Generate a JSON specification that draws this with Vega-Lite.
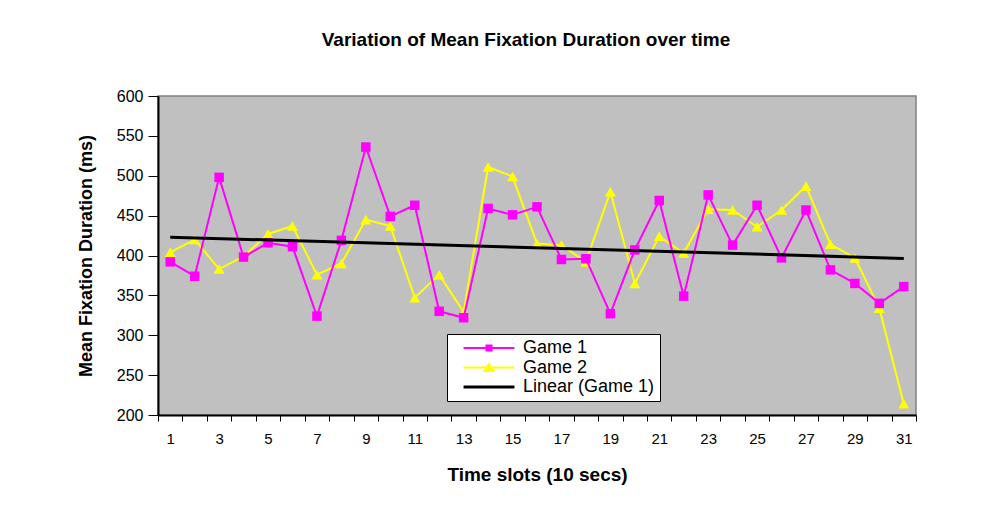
{
  "$schema": "https://vega.github.io/schema/vega-lite/v6.json",
  "width": 758,
  "height": 319,
  "autosize": "none",
  "padding": {"left": 158, "top": 96, "right": 86, "bottom": 98},
  "background": "white",
  "config": {
    "font": "Liberation Sans",
    "view": {"fill": "#C0C0C0", "stroke": "#808080", "strokeWidth": 1.5},
    "axis": {"labelColor": "black", "titleColor": "black", "domainColor": "black", "tickColor": "black", "grid": false, "labelFont": "Liberation Sans", "titleFont": "Liberation Sans"},
    "legend": {"strokeColor": "black", "fillColor": "white"}
  },
  "title": {
    "text": "Variation of Mean Fixation Duration over time",
    "font": "Liberation Sans",
    "fontSize": 19,
    "fontWeight": "bold",
    "color": "black",
    "anchor": "middle",
    "dx": -11,
    "offset": 38
  },
  "data": {
    "values": [
      {"slot": 1, "series": "Game 1", "value": 392},
      {"slot": 2, "series": "Game 1", "value": 374},
      {"slot": 3, "series": "Game 1", "value": 498},
      {"slot": 4, "series": "Game 1", "value": 398},
      {"slot": 5, "series": "Game 1", "value": 416},
      {"slot": 6, "series": "Game 1", "value": 411},
      {"slot": 7, "series": "Game 1", "value": 324},
      {"slot": 8, "series": "Game 1", "value": 419},
      {"slot": 9, "series": "Game 1", "value": 536},
      {"slot": 10, "series": "Game 1", "value": 449},
      {"slot": 11, "series": "Game 1", "value": 463},
      {"slot": 12, "series": "Game 1", "value": 330},
      {"slot": 13, "series": "Game 1", "value": 322},
      {"slot": 14, "series": "Game 1", "value": 459},
      {"slot": 15, "series": "Game 1", "value": 451},
      {"slot": 16, "series": "Game 1", "value": 461},
      {"slot": 17, "series": "Game 1", "value": 395},
      {"slot": 18, "series": "Game 1", "value": 396},
      {"slot": 19, "series": "Game 1", "value": 327},
      {"slot": 20, "series": "Game 1", "value": 407},
      {"slot": 21, "series": "Game 1", "value": 469},
      {"slot": 22, "series": "Game 1", "value": 349},
      {"slot": 23, "series": "Game 1", "value": 476},
      {"slot": 24, "series": "Game 1", "value": 413},
      {"slot": 25, "series": "Game 1", "value": 463},
      {"slot": 26, "series": "Game 1", "value": 397},
      {"slot": 27, "series": "Game 1", "value": 457},
      {"slot": 28, "series": "Game 1", "value": 382},
      {"slot": 29, "series": "Game 1", "value": 365},
      {"slot": 30, "series": "Game 1", "value": 340},
      {"slot": 31, "series": "Game 1", "value": 361},
      {"slot": 1, "series": "Game 2", "value": 404},
      {"slot": 2, "series": "Game 2", "value": 420},
      {"slot": 3, "series": "Game 2", "value": 383},
      {"slot": 4, "series": "Game 2", "value": 399},
      {"slot": 5, "series": "Game 2", "value": 427},
      {"slot": 6, "series": "Game 2", "value": 437},
      {"slot": 7, "series": "Game 2", "value": 376},
      {"slot": 8, "series": "Game 2", "value": 390},
      {"slot": 9, "series": "Game 2", "value": 445},
      {"slot": 10, "series": "Game 2", "value": 437},
      {"slot": 11, "series": "Game 2", "value": 347},
      {"slot": 12, "series": "Game 2", "value": 376},
      {"slot": 13, "series": "Game 2", "value": 329},
      {"slot": 14, "series": "Game 2", "value": 511},
      {"slot": 15, "series": "Game 2", "value": 499},
      {"slot": 16, "series": "Game 2", "value": 415},
      {"slot": 17, "series": "Game 2", "value": 413},
      {"slot": 18, "series": "Game 2", "value": 392},
      {"slot": 19, "series": "Game 2", "value": 480},
      {"slot": 20, "series": "Game 2", "value": 365},
      {"slot": 21, "series": "Game 2", "value": 424},
      {"slot": 22, "series": "Game 2", "value": 403},
      {"slot": 23, "series": "Game 2", "value": 458},
      {"slot": 24, "series": "Game 2", "value": 457},
      {"slot": 25, "series": "Game 2", "value": 436},
      {"slot": 26, "series": "Game 2", "value": 457},
      {"slot": 27, "series": "Game 2", "value": 487},
      {"slot": 28, "series": "Game 2", "value": 414},
      {"slot": 29, "series": "Game 2", "value": 397},
      {"slot": 30, "series": "Game 2", "value": 334},
      {"slot": 31, "series": "Game 2", "value": 214}
    ]
  },
  "encoding": {
    "x": {
      "field": "slot",
      "type": "ordinal",
      "scale": {"type": "band", "paddingInner": 0, "paddingOuter": 0},
      "axis": {
        "title": "Time slots (10 secs)",
        "titleFontSize": 19,
        "titleFontWeight": "bold",
        "titlePadding": 19,
        "labelAngle": 0,
        "labelFontSize": 15,
        "labelPadding": 10,
        "labelExpr": "datum.value % 2 == 1 ? datum.label : ''",
        "tickBand": "extent",
        "tickSize": 6,
        "domainWidth": 2
      }
    },
    "y": {
      "field": "value",
      "type": "quantitative",
      "scale": {"domain": [200, 600], "nice": false, "zero": false},
      "axis": {
        "title": "Mean Fixation Duration (ms)",
        "titleFontSize": 18,
        "titleFontWeight": "bold",
        "titlePadding": 21,
        "values": [200, 250, 300, 350, 400, 450, 500, 550, 600],
        "labelFontSize": 16,
        "labelPadding": 5,
        "tickSize": 10,
        "domainWidth": 2
      }
    }
  },
  "layer": [
    {
      "transform": [{"filter": "datum.series == 'Game 2'"}],
      "mark": {"type": "line", "color": "#FFFF00", "strokeWidth": 2, "point": {"shape": "triangle-up", "filled": true, "size": 121, "color": "#FFFF00", "opacity": 1}}
    },
    {
      "transform": [{"filter": "datum.series == 'Game 1'"}],
      "mark": {"type": "line", "color": "#FF00FF", "strokeWidth": 2, "point": {"shape": "square", "filled": true, "size": 90, "color": "#FF00FF", "opacity": 1}}
    },
    {
      "transform": [
        {"filter": "datum.series == 'Game 1'"},
        {"regression": "value", "on": "slot", "method": "linear", "extent": [1, 31]}
      ],
      "mark": {"type": "line", "color": "black", "strokeWidth": 3}
    },
    {
      "transform": [{"filter": "false"}],
      "mark": {"type": "point", "filled": true, "opacity": 1, "strokeWidth": 0},
      "encoding": {
        "fill": {
          "field": "series",
          "type": "nominal",
          "scale": {"domain": ["Game 1", "Game 2", "Linear (Game 1)"], "range": ["#FF00FF", "#FFFF00", "#000000"]},
          "legend": {
            "title": null,
            "orient": "none",
            "legendX": 289,
            "legendY": 238,
            "fillColor": "white",
            "strokeColor": "black",
            "padding": 5,
            "symbolSize": 200,
            "symbolOffset": 28,
            "labelOffset": 25,
            "labelFontSize": 18,
            "labelFont": "Liberation Sans",
            "labelColor": "black",
            "rowPadding": 1.5,
            "symbolStrokeWidth": 0,
            "symbolOpacity": 1
          }
        },
        "shape": {
          "field": "series",
          "type": "nominal",
          "scale": {
            "domain": ["Game 1", "Game 2", "Linear (Game 1)"],
            "range": [
              "M-3.6,-0.14H3.6V0.14H-3.6ZM-0.5,-0.5H0.5V0.5H-0.5Z",
              "M-3.6,-0.14H3.6V0.14H-3.6ZM0,-0.75L0.9,0.65H-0.9Z",
              "M-3.6,-0.21H3.6V0.21H-3.6Z"
            ]
          },
          "legend": {
            "title": null,
            "orient": "none",
            "legendX": 289,
            "legendY": 238
          }
        }
      }
    }
  ]
}
